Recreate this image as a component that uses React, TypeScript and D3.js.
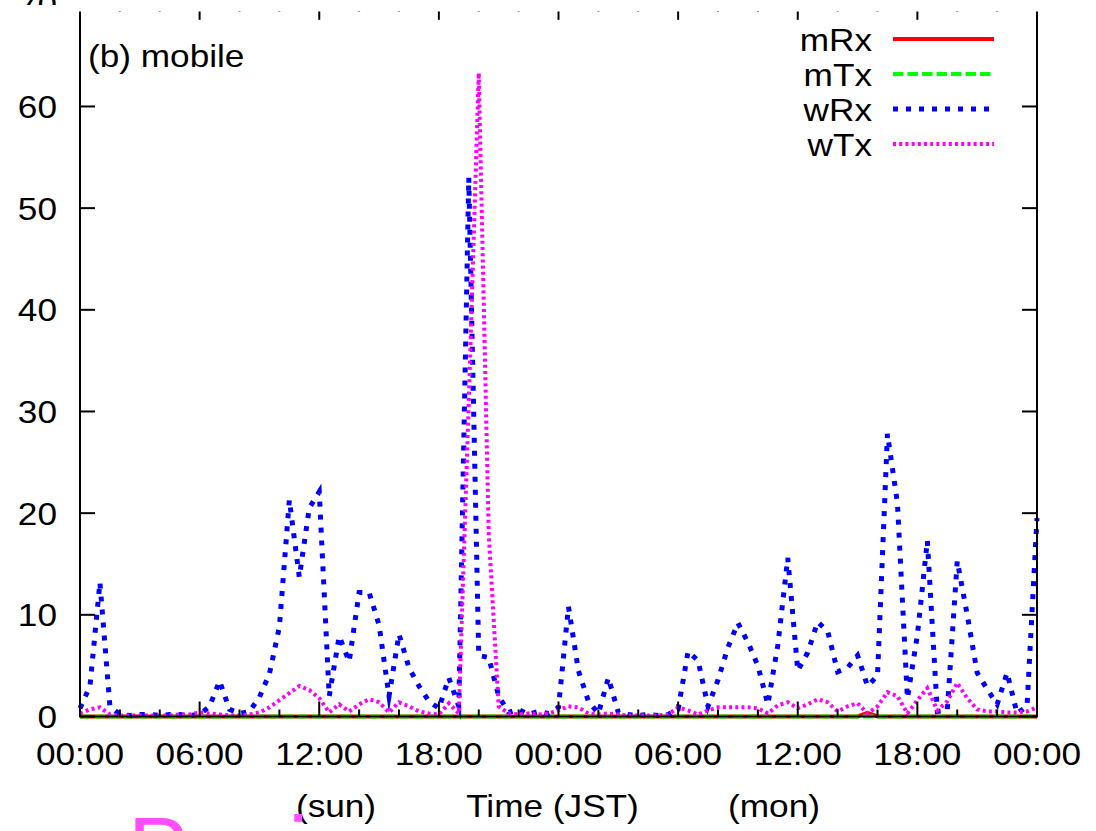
import React from "react";
import * as d3 from "d3";

// Traffic samples, one every half hour from Sat 00:00 to Tue 00:00 (JST)
const STEP_HOURS = 0.5;

const wRx = [
  0.8, 3.0, 13.2, 1.0, 0.2, 0.1, 0.2, 0.2, 0.1, 0.2, 0.2, 0.1,
  0.2, 1.0, 3.5, 0.7, 0.3, 0.5, 1.9, 4.2, 8.8, 21.3, 13.7, 20.5,
  22.1, 2.0, 7.9, 5.4, 12.2, 12.2, 9.0, 2.0, 8.1, 4.8, 3.0, 1.5,
  0.8, 3.8, 1.0, 53.0, 6.0, 5.8, 2.0, 0.4, 0.7, 0.2, 0.5, 0.3,
  0.9, 10.8, 4.5, 1.5, 0.3, 3.8, 0.4, 0.2, 0.1, 0.2, 0.1, 0.2,
  0.7, 6.4, 5.5, 1.0, 3.6, 6.8, 9.2, 7.3, 5.0, 1.2, 7.0, 15.6,
  4.5, 6.3, 9.3, 8.4, 4.4, 4.8, 6.0, 3.0, 4.0, 27.8, 21.0, 1.8,
  8.0, 17.3, 0.5, 0.6, 15.3, 10.0, 4.3, 2.7, 1.2, 4.3, 0.3, 1.0,
  19.5,
];

const wTx = [
  0.3, 0.7, 0.9, 0.2, 0.1, 0.1, 0.1, 0.1, 0.1, 0.1, 0.2, 0.2,
  0.4, 0.3, 0.2, 0.1, 0.1, 0.2, 0.4, 0.9, 1.6, 2.3, 3.0, 2.6,
  1.8, 0.4, 1.2, 0.5, 1.2, 1.7, 1.4, 0.4, 1.4, 1.0, 0.5, 0.3,
  0.2, 1.3, 0.3, 31.0, 63.3, 18.0, 1.0, 0.3, 0.2, 0.3, 0.2, 0.3,
  0.6, 1.0, 0.9, 0.3, 0.2, 0.3, 0.2, 0.1, 0.1, 0.1, 0.1, 0.2,
  0.9, 0.6, 0.2, 0.6, 0.9, 0.9, 0.9, 0.9, 0.8, 0.3, 1.1, 1.4,
  0.8, 1.2, 1.7, 1.4, 0.5, 1.0, 1.3, 0.3, 1.0, 2.4, 2.0, 0.3,
  1.6, 2.8, 0.6, 1.5, 3.3, 1.8, 0.7, 0.5, 0.5, 0.4, 0.4, 0.5,
  0.9,
];

const mRx = [
  0, 0, 0, 0, 0, 0, 0, 0, 0, 0, 0, 0,
  0, 0, 0, 0, 0, 0, 0, 0, 0, 0, 0, 0,
  0, 0, 0, 0, 0, 0, 0, 0, 0, 0, 0, 0,
  0, 0, 0, 0, 0, 0, 0, 0, 0, 0, 0, 0,
  0, 0, 0, 0, 0, 0, 0, 0, 0, 0, 0, 0,
  0, 0, 0, 0, 0, 0, 0, 0, 0, 0, 0, 0,
  0, 0, 0, 0, 0, 0, 0, 0.35, 0, 0, 0, 0,
  0, 0, 0, 0, 0, 0, 0, 0, 0, 0, 0, 0,
  0,
];

const mTx = [
  0, 0, 0, 0, 0, 0, 0, 0, 0, 0, 0, 0,
  0, 0, 0, 0, 0, 0, 0, 0, 0, 0, 0, 0,
  0, 0, 0, 0, 0, 0, 0, 0, 0, 0, 0, 0,
  0, 0, 0, 0, 0, 0, 0, 0, 0, 0, 0, 0,
  0, 0, 0, 0, 0, 0, 0, 0, 0, 0, 0, 0,
  0, 0, 0, 0, 0, 0, 0, 0, 0, 0, 0, 0,
  0, 0, 0, 0, 0, 0, 0, 0, 0, 0, 0, 0,
  0, 0, 0, 0, 0, 0, 0, 0, 0, 0, 0, 0,
  0,
];

const xMajorHours = [0, 6, 12, 18, 24, 30, 36, 42, 48];
const xTickLabels = ["00:00", "06:00", "12:00", "18:00", "00:00", "06:00", "12:00", "18:00", "00:00"];
const xMinorHours = [2, 4, 8, 10, 14, 16, 20, 22, 26, 28, 32, 34, 38, 40, 44, 46];
const yTicks = [0, 10, 20, 30, 40, 50, 60, 70];

const seriesNames = ["mRx", "mTx", "wRx", "wTx"];
const seriesValues = [mRx, mTx, wRx, wTx];
const seriesColors = ["#ff0000", "#00ff00", "#0000ff", "#ff00ff"];

const W = 1096;
const H = 831;
const FONT = "'Liberation Sans', Arial, Helvetica, sans-serif";

const styles = [
  { width: 4, dash: undefined as string | undefined },
  { width: 4, dash: "10.5 4" },
  { width: 5, dash: "5 8" },
  { width: 4, dash: "3 3.2" },
];

function Label(props: {
  x: number;
  y: number;
  anchor?: "start" | "middle" | "end";
  size?: number;
  fill?: string;
  stretch?: number;
  children: React.ReactNode;
}) {
  const { x, y, anchor = "start", size = 32, fill = "#000", stretch = 1.1, children } = props;
  return (
    <text
      transform={`translate(${x},${y}) scale(${stretch},1)`}
      textAnchor={anchor}
      fontSize={size}
      fontFamily={FONT}
      fill={fill}
    >
      {children}
    </text>
  );
}

export default function App() {
  const x = d3.scaleLinear().domain([0, 48]).range([80, 1037]);
  const y = d3.scaleLinear().domain([0, 70]).range([716.5, 4.8]);

  const line = d3
    .line<number>()
    .x((_, i) => x(i * STEP_HOURS))
    .y((d) => y(d));

  const [x0, x1] = x.range();
  const [yb, yt] = y.range();

  const legendRows = [39, 74, 109, 144];

  return (
    <svg
      width={W}
      height={H}
      style={{ position: "absolute", left: 0, top: 0, display: "block", background: "#fff" }}
    >
      <rect x={0} y={0} width={W} height={H} fill="#fff" />

      {/* data lines, drawn in series order */}
      {seriesValues.map((vals, i) => (
        <path
          key={seriesNames[i]}
          d={line(vals) || ""}
          fill="none"
          stroke={seriesColors[i]}
          strokeWidth={styles[i].width}
          strokeDasharray={styles[i].dash}
          strokeLinejoin="miter"
          strokeMiterlimit={9.8}
        />
      ))}

      {/* plot border */}
      <rect x={x0} y={yt} width={x1 - x0} height={yb - yt} fill="none" stroke="#000" strokeWidth={2} />

      {/* y ticks on both sides */}
      {yTicks.map((t) => (
        <g key={"y" + t}>
          <line x1={x0} x2={x0 + 15} y1={y(t)} y2={y(t)} stroke="#000" strokeWidth={2} />
          <line x1={x1} x2={x1 - 15} y1={y(t)} y2={y(t)} stroke="#000" strokeWidth={2} />
        </g>
      ))}

      {/* x ticks, top and bottom */}
      {xMajorHours.map((h) => (
        <g key={"xM" + h}>
          <line x1={x(h)} x2={x(h)} y1={yb} y2={yb - 15} stroke="#000" strokeWidth={2} />
          <line x1={x(h)} x2={x(h)} y1={yt} y2={yt + 15} stroke="#000" strokeWidth={2} />
        </g>
      ))}
      {xMinorHours.map((h) => (
        <g key={"xm" + h}>
          <line x1={x(h)} x2={x(h)} y1={yb} y2={yb - 7} stroke="#000" strokeWidth={2} />
          <line x1={x(h)} x2={x(h)} y1={yt} y2={yt + 7} stroke="#000" strokeWidth={2} />
        </g>
      ))}

      {/* y tick labels */}
      {yTicks.map((t) => (
        <Label key={"yl" + t} x={57} y={y(t) + 11.5} anchor="end">
          {t}
        </Label>
      ))}

      {/* blank strip across the top edge */}
      <rect x={0} y={5} width={70} height={15} fill="#fff" />
      <rect x={70} y={0} width={W - 70} height={11.5} fill="#fff" />

      {/* x tick labels */}
      {xMajorHours.map((h, i) => (
        <Label key={"xl" + i} x={x(h)} y={765} anchor="middle">
          {xTickLabels[i]}
        </Label>
      ))}

      <Label x={336} y={817} anchor="middle">(sun)</Label>
      <Label x={552.5} y={817} anchor="middle">Time (JST)</Label>
      <Label x={774} y={817} anchor="middle">(mon)</Label>

      <Label x={88} y={67}>(b) mobile</Label>

      {/* legend */}
      {seriesNames.map((name, i) => (
        <g key={"lg" + name}>
          <Label x={872} y={legendRows[i] + 11.5} anchor="end">
            {name}
          </Label>
          <line
            x1={893}
            x2={994}
            y1={legendRows[i]}
            y2={legendRows[i]}
            stroke={seriesColors[i]}
            strokeWidth={styles[i].width}
            strokeDasharray={styles[i].dash}
          />
        </g>
      ))}

      <Label x={128} y={880} size={90} fill="#ff4dff" stretch={1}>
        Panic
      </Label>
    </svg>
  );
}
